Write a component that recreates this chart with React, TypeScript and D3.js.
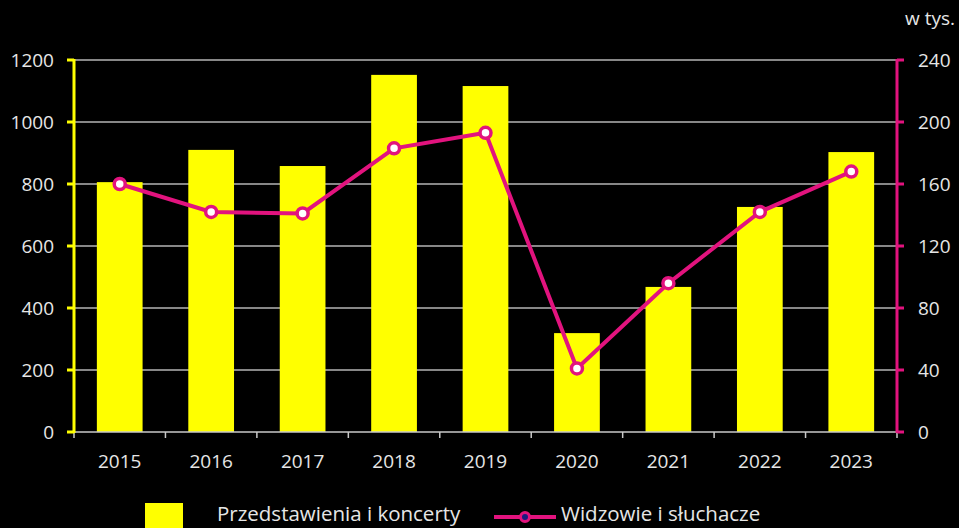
import React from "react";
import * as d3 from "d3";

const years = ["2015", "2016", "2017", "2018", "2019", "2020", "2021", "2022", "2023"];
const performances = [806, 910, 858, 1152, 1116, 319, 468, 726, 903];
const audience = [160, 142, 141, 183, 193, 41, 96, 142, 168];
const leftTicks = [0, 200, 400, 600, 800, 1000, 1200];
const rightTicks = [0, 40, 80, 120, 160, 200, 240];
const seriesNames = ["Przedstawienia i koncerty", "Widzowie i słuchacze"];

const W = 959, H = 528;
const M = { left: 74, right: 897, top: 60, bottom: 432 };
const YEL = "#FFFF00";
const MAG = "#E2137E";
const TXT = "#E6E6E6";
const FONT = "'Open Sans', 'Noto Sans', sans-serif";

export default function App() {
  const x = d3.scaleBand<string>().domain(years).range([M.left, M.right]).paddingInner(0).paddingOuter(0);
  const yL = d3.scaleLinear().domain([0, 1200]).range([M.bottom, M.top]);
  const yR = d3.scaleLinear().domain([0, 240]).range([M.bottom, M.top]);
  const bw = x.bandwidth() * 0.5;
  const line = d3.line<number>().x((_, i) => x(years[i])! + x.bandwidth() / 2).y((d) => yR(d));
  const boundaries = years.map((y) => x(y)!).concat([M.right]);
  return (
    <div style={{ position: "fixed", left: 0, top: 0, width: W, height: H, overflow: "hidden", background: "#000" }}>
      <svg width={W} height={H} style={{ display: "block", background: "#000" }} fontFamily={FONT}>
        {leftTicks.filter((t) => t > 0).map((t) => (
          <line key={"g" + t} x1={M.left} x2={M.right} y1={yL(t)} y2={yL(t)} stroke="#B4B4B4" strokeWidth={1.5} />
        ))}
        {years.map((y, i) => (
          <rect key={y} x={x(y)! + (x.bandwidth() - bw) / 2} y={yL(performances[i])} width={bw} height={M.bottom - yL(performances[i])} fill={YEL} />
        ))}
        <line x1={M.left} x2={M.right} y1={M.bottom} y2={M.bottom} stroke="#C8C8C8" strokeWidth={1.5} />
        {boundaries.map((b, i) => (
          <line key={"xt" + i} x1={b} x2={b} y1={M.bottom} y2={M.bottom + 6} stroke="#C8C8C8" strokeWidth={1.5} />
        ))}
        {years.map((y) => (
          <text key={"xl" + y} x={x(y)! + x.bandwidth() / 2} y={468} textAnchor="middle" fill={TXT} fontSize={19}>{y}</text>
        ))}
        <line x1={M.left} x2={M.left} y1={M.top - 1} y2={M.bottom + 1} stroke={YEL} strokeWidth={3} />
        {leftTicks.map((t) => (
          <g key={"lt" + t}>
            <line x1={M.left - 7} x2={M.left} y1={yL(t)} y2={yL(t)} stroke={YEL} strokeWidth={3} />
            <text x={54} y={yL(t)} dy="0.35em" textAnchor="end" fill={TXT} fontSize={19}>{t}</text>
          </g>
        ))}
        <line x1={M.right} x2={M.right} y1={M.top - 1} y2={M.bottom + 1} stroke={MAG} strokeWidth={3} />
        {rightTicks.map((t) => (
          <g key={"rt" + t}>
            <line x1={M.right} x2={M.right + 7} y1={yR(t)} y2={yR(t)} stroke={MAG} strokeWidth={3} />
            <text x={918} y={yR(t)} dy="0.35em" textAnchor="start" fill={TXT} fontSize={19}>{t}</text>
          </g>
        ))}
        <text x={955} y={25} textAnchor="end" fill={TXT} fontSize={19}>w tys.</text>
        <path d={line(audience) ?? ""} fill="none" stroke={MAG} strokeWidth={4} />
        {audience.map((v, i) => (
          <circle key={"p" + i} cx={x(years[i])! + x.bandwidth() / 2} cy={yR(v)} r={5.5} fill="#fff" stroke={MAG} strokeWidth={3.5} />
        ))}
        <rect x={145} y={503} width={38} height={30} fill={YEL} />
        <text x={217} y={521} fill={TXT} fontSize={20.5}>{seriesNames[0]}</text>
        <line x1={494} x2={556} y1={517} y2={517} stroke={MAG} strokeWidth={4} />
        <circle cx={525} cy={517} r={4.5} fill="#1A1A80" stroke={MAG} strokeWidth={3} />
        <text x={561} y={521} fill={TXT} fontSize={20.5}>{seriesNames[1]}</text>
      </svg>
    </div>
  );
}
